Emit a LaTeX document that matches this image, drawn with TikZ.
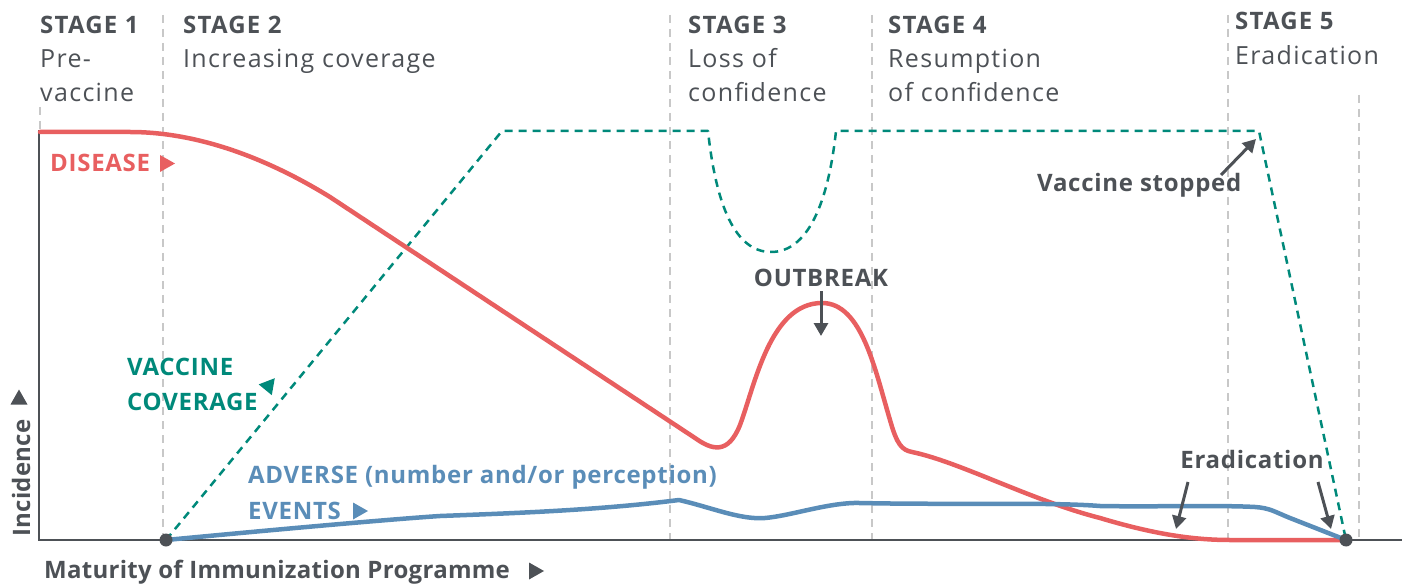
\documentclass[tikz,border=0pt]{standalone}
\usepackage{fontspec}
\setmainfont{Open Sans}
\newfontfamily\subfont[LetterSpace=5.3]{Open Sans}
\newfontfamily\boldfont[LetterSpace=3.0]{Open Sans Bold}
\newfontfamily\stagefont[LetterSpace=5.0]{Open Sans Bold}
\newfontfamily\axfont[LetterSpace=1.2]{Open Sans Bold}
\usetikzlibrary{arrows.meta}
\definecolor{txtgray}{HTML}{4D5156}
\definecolor{disred}{HTML}{E85F60}
\definecolor{vacteal}{HTML}{00897A}
\definecolor{advblue}{HTML}{5A8DB8}
\definecolor{gridgray}{HTML}{C8C8C8}
\tikzset{
  stagehead/.style={anchor=base west, inner sep=0pt, font=\stagefont\fontsize{24}{30}\selectfont, text=txtgray},
  stagesub/.style={anchor=base west, inner sep=0pt, font=\subfont\fontsize{25}{30}\selectfont, text=txtgray},
  serieslabel/.style={anchor=base west, inner sep=0pt, font=\boldfont\fontsize{24}{30}\selectfont},
  annot/.style={anchor=base, inner sep=0pt, font=\boldfont\fontsize{24}{30}\selectfont, text=txtgray},
  axtitle/.style={inner sep=0pt, font=\axfont\fontsize{24}{30}\selectfont, text=txtgray},
  gridline/.style={draw=gridgray, line width=2pt, dash pattern=on 8pt off 6pt},
  axisline/.style={draw=txtgray, line width=2.5pt},
  pointer/.style={draw=txtgray, line width=3pt, -{Triangle[length=13pt,width=14pt]}},
  curve/.style={line width=4.5pt, line cap=round, line join=round},
  dot/.style={circle, fill=txtgray, inner sep=0pt, minimum size=13pt}
}
\begin{document}
\begin{tikzpicture}[x=1pt,y=-1pt]
\useasboundingbox (0,0) rectangle (1413,585);
% grid lines
\draw[gridline] (40,107) -- (40,130);
\draw[gridline] (163,15) -- (163,540);
\draw[gridline] (670,15) -- (670,540);
\draw[gridline] (872,15) -- (872,540);
\draw[gridline] (1228,15) -- (1228,540);
\draw[gridline] (1359,95) -- (1359,540);
% axes
\coordinate (ytop) at (39,130);
\coordinate (orig) at (39,540);
\coordinate (xend) at (1402,540);
\draw[axisline] (ytop) -- (orig) -- (xend);
% stage labels
\node[stagehead] (s1) at (40,34) {STAGE 1};
\node[stagesub] (s1a) at (40,68) {Pre-};
\node[stagesub] (s1b) at (40,102) {vaccine};
\node[stagehead] (s2) at (183,34) {STAGE 2};
\node[stagesub] (s2a) at (183,68) {Increasing coverage};
\node[stagehead] (s3) at (688,34) {STAGE 3};
\node[stagesub] (s3a) at (688,68) {Loss of};
\node[stagesub] (s3b) at (688,102) {confidence};
\node[stagehead] (s4) at (888,34) {STAGE 4};
\node[stagesub] (s4a) at (888,68) {Resumption};
\node[stagesub] (s4b) at (888,102) {of confidence};
\node[stagehead] (s5) at (1235,30) {STAGE 5};
\node[stagesub] (s5a) at (1235,65) {Eradication};
% vaccine coverage (teal dashed)
\coordinate (vstart) at (166,540);
\coordinate (vend) at (1346,540);
\draw[vacteal, line width=2.5pt, dash pattern=on 8pt off 6pt, line join=round]
  (vstart) -- (502,131) -- (708,131)
  .. controls (716,205) and (735,252) .. (771,252)
  .. controls (807,252) and (828,205) .. (836,131)
  -- (1259,131) coordinate (vstop) -- (vend);
% disease (red)
\draw[curve, disred]
  (40,132) -- (130,132) .. controls (200,132) and (270,160) .. (330,197)
  -- (695,438) .. controls (712,450) and (728,455) .. (740,425)
  .. controls (755,385) and (770,303) .. (822,303) coordinate (peak)
  .. controls (862,303) and (875,370) .. (890,420)
  .. controls (897,445) and (902,450) .. (912,452)
  .. controls (960,462) and (1030,500) .. (1100,518)
  .. controls (1150,533) and (1190,540) .. (1230,540) -- (vend);
% adverse events (blue)
\draw[curve, advblue]
  (vstart) .. controls (250,532) and (380,520) .. (440,516)
  .. controls (520,513) and (600,510) .. (679,500)
  .. controls (710,507) and (740,520) .. (765,518)
  .. controls (790,516) and (830,502) .. (860,503)
  .. controls (950,505) and (1050,502) .. (1100,506)
  .. controls (1150,507) and (1220,505) .. (1255,507)
  .. controls (1270,508) and (1275,512) .. (1290,518) -- (vend);
% dots
\node[dot] (d1) at (vstart) {};
\node[dot] (d2) at (vend) {};
% series labels
\node[serieslabel, text=disred] (dis) at (50,172) {DISEASE};
\fill[disred, shift={(160,163.5)}] (0,-8.5) -- (15,0) -- (0,8.5) -- cycle;
\node[serieslabel, text=vacteal] (vac1) at (127,375) {VACCINE};
\node[serieslabel, text=vacteal] (vac2) at (127,410) {COVERAGE};
\fill[vacteal, shift={(270,384)}, rotate=50.6] (-7.5,-8.5) -- (7.5,0) -- (-7.5,8.5) -- cycle;
\node[serieslabel, text=advblue] (adv1) at (248,483) {ADVERSE (number and/or perception)};
\node[serieslabel, text=advblue] (adv2) at (248,519) {EVENTS};
\fill[advblue, shift={(353,511)}] (0,-8.5) -- (15,0) -- (0,8.5) -- cycle;
% annotations
\node[annot] (ob) at (821,287) {OUTBREAK};
\coordinate (obtip) at (821,336);
\draw[pointer] ([yshift=-4pt]ob.south) -- (obtip);
\node[annot, anchor=base west] (vs) at (1037,192) {Vaccine stopped};
\coordinate (vsfrom) at (1221,175);
\coordinate (vsto) at (1256,139);
\draw[pointer] (vsfrom) -- (vsto);
\node[annot] (er) at (1252,468) {Eradication};
\coordinate (er1a) at (1188,482);
\coordinate (er1b) at (1176,529);
\coordinate (er2a) at (1318,482);
\coordinate (er2b) at (1331,529);
\draw[pointer] (er1a) -- (er1b);
\draw[pointer] (er2a) -- (er2b);
% axis titles
\node[axtitle, anchor=base west] (xt) at (44,578) {Maturity of Immunization Programme};
\fill[txtgray, shift={(529,571)}] (0,-8.5) -- (15,0) -- (0,8.5) -- cycle;
\node[axtitle, anchor=base west, rotate=90] (yt) at (30,537) {Incidence};
\fill[txtgray, shift={(19,397)}, rotate=90] (-7.5,-8.5) -- (7.5,0) -- (-7.5,8.5) -- cycle;
\end{tikzpicture}
\end{document}
